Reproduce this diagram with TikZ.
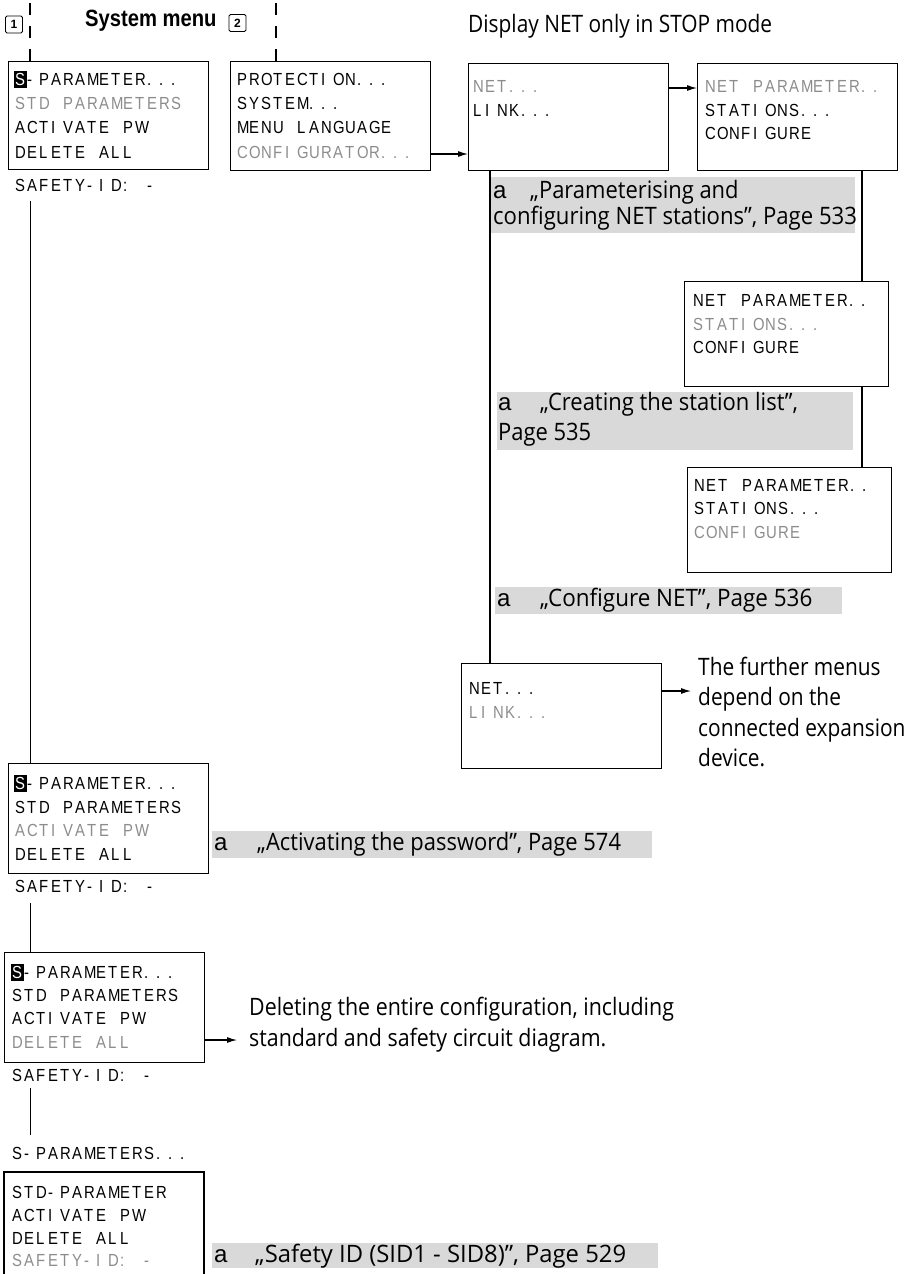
\documentclass[tikz,border=0pt]{standalone}
\usepackage{fontspec}
\usepackage{graphicx}
\usetikzlibrary{arrows.meta}
\newfontfamily\lcdfont[FakeStretch=0.85]{Liberation Sans}
\newfontfamily\capfont[FakeStretch=0.87]{Open Sans}
\newfontfamily\titlefont[FakeStretch=0.86]{Liberation Sans}
\newfontfamily\afont{Liberation Sans}
\definecolor{dimtxt}{HTML}{8C8C8C}
\definecolor{bandgray}{HTML}{D9D9D9}
\def\lcdend{LCDEND}
\def\lcdA#1{\ifx#1\lcdend\else\makebox[12pt][l]{#1}\expandafter\lcdA\fi}
\def\lcd#1{\lcdA#1\lcdend}
\newcommand\hlS{\makebox[12pt][l]{\rlap{\hspace{-1pt}\rule[-2.5pt]{12.7pt}{17pt}}\textcolor{white}{S}}}
\newcommand\sx[2]{\scalebox{#1}[1]{#2}}
\tikzset{
 lcdbox/.style={draw, line width=1.1pt, anchor=north west, inner sep=0pt, minimum width=200pt},
 lcdrow/.style={anchor=west, inner sep=0pt, text height=12.5pt, text depth=0pt, font=\lcdfont\fontsize{17.5}{20}\selectfont},
 dimrow/.style={lcdrow, text=dimtxt},
 captxt/.style={anchor=base west, inner sep=0pt, font=\capfont\fontsize{24}{30}\selectfont},
 amark/.style={anchor=base west, inner sep=0pt, font=\afont\fontsize{24}{30}\selectfont},
 conn/.style={line width=1.1pt},
 arr/.style={line width=1.1pt, -{Latex[length=10pt,width=6pt]}},
 dashln/.style={line width=1.1pt, dash pattern=on 12pt off 11pt},
 numbox/.style={draw, line width=0.8pt, rounded corners=1.5pt, minimum size=17pt, inner sep=0pt, font=\afont\bfseries\fontsize{12}{12}\selectfont},
 bandfill/.style={fill=bandgray}
}
\begin{document}
\begin{tikzpicture}[x=1pt, y=-1pt]
\useasboundingbox (0,0) rectangle (907,1274);
% header
\node[numbox] (n1) at (14,24.5) {1};
\node[numbox] (n2) at (237.5,23) {2};
\node[anchor=base west, inner sep=0pt, font=\titlefont\bfseries\fontsize{23.5}{24}\selectfont] (title) at (85,26) {System menu};
\node[captxt] (disp) at (468,32) {Display NET only in STOP mode};
% gray bands
\fill[bandfill] (491,177) rectangle (855,233);
\fill[bandfill] (497,392) rectangle (853,450);
\fill[bandfill] (495,587) rectangle (842,614);
\fill[bandfill] (212,831) rectangle (652,858);
\fill[bandfill] (212,1243) rectangle (658,1268);
% box 1
\node[lcdbox, minimum height=108pt] (b1) at (8,61) {};
\node[lcdrow] (b1r1) at (15,79) {\hlS\lcd{-PARAMETER...}};
\node[dimrow] (b1r2) at (15,103) {\lcd{STD~PARAMETERS}};
\node[lcdrow] (b1r3) at (15,127) {\lcd{ACTIVATE~PW}};
\node[lcdrow] (b1r4) at (15,152) {\lcd{DELETE~ALL}};
\node[lcdrow] (b1id) at (15,185) {\lcd{SAFETY-ID:~-}};
% box 2
\node[lcdbox, minimum height=109pt] (b2) at (230,61) {};
\node[lcdrow] (b2r1) at (237,79) {\lcd{PROTECTION...}};
\node[lcdrow] (b2r2) at (237,103) {\lcd{SYSTEM...}};
\node[lcdrow] (b2r3) at (237,127) {\lcd{MENU~LANGUAGE}};
\node[dimrow] (b2r4) at (237,152) {\lcd{CONFIGURATOR...}};
% NET box 1
\node[lcdbox, minimum height=107pt] (net1) at (468,63) {};
\node[dimrow] (net1r1) at (473,86) {\lcd{NET...}};
\node[lcdrow] (net1r2) at (473,110) {\lcd{LINK...}};
% NET PARAMETER box 1
\node[lcdbox, minimum height=107pt] (np1) at (697,63) {};
\node[dimrow] (np1r1) at (705,86) {\lcd{NET~PARAMETER..}};
\node[lcdrow] (np1r2) at (705,110) {\lcd{STATIONS...}};
\node[lcdrow] (np1r3) at (705,133) {\lcd{CONFIGURE}};
% NET PARAMETER box 2
\node[lcdbox, minimum width=204pt, minimum height=105pt] (np2) at (684,281) {};
\node[lcdrow] (np2r1) at (693,300) {\lcd{NET~PARAMETER..}};
\node[dimrow] (np2r2) at (693,324) {\lcd{STATIONS...}};
\node[lcdrow] (np2r3) at (693,347) {\lcd{CONFIGURE}};
% NET PARAMETER box 3
\node[lcdbox, minimum width=204pt, minimum height=105pt] (np3) at (687,467) {};
\node[lcdrow] (np3r1) at (694,485) {\lcd{NET~PARAMETER..}};
\node[lcdrow] (np3r2) at (694,508) {\lcd{STATIONS...}};
\node[dimrow] (np3r3) at (694,532) {\lcd{CONFIGURE}};
% NET box 2
\node[lcdbox, minimum height=105pt] (net2) at (461,663) {};
\node[lcdrow] (net2r1) at (469,688) {\lcd{NET...}};
\node[dimrow] (net2r2) at (469,712) {\lcd{LINK...}};
% box 3
\node[lcdbox, minimum height=110pt] (b3) at (8,763) {};
\node[lcdrow] (b3r1) at (15,783) {\hlS\lcd{-PARAMETER...}};
\node[lcdrow] (b3r2) at (15,807) {\lcd{STD~PARAMETERS}};
\node[dimrow] (b3r3) at (15,830) {\lcd{ACTIVATE~PW}};
\node[lcdrow] (b3r4) at (15,854) {\lcd{DELETE~ALL}};
\node[lcdrow] (b3id) at (15,886) {\lcd{SAFETY-ID:~-}};
% box 4
\node[lcdbox, minimum height=110pt] (b4) at (4,952) {};
\node[lcdrow] (b4r1) at (12,972) {\hlS\lcd{-PARAMETER...}};
\node[lcdrow] (b4r2) at (12,995) {\lcd{STD~PARAMETERS}};
\node[lcdrow] (b4r3) at (12,1018) {\lcd{ACTIVATE~PW}};
\node[dimrow] (b4r4) at (12,1042) {\lcd{DELETE~ALL}};
\node[lcdrow] (b4id) at (12,1075) {\lcd{SAFETY-ID:~-}};
% box 5 (open at the bottom)
\node[lcdrow] (b5head) at (12,1153) {\lcd{S-PARAMETERS...}};
\coordinate (b5tl) at (4,1172);
\coordinate (b5tr) at (204,1172);
\draw[conn] (4,1274) -- (b5tl) -- (b5tr) -- (204,1274);
\node[lcdrow] (b5r1) at (12,1192) {\lcd{STD-PARAMETER}};
\node[lcdrow] (b5r2) at (12,1215) {\lcd{ACTIVATE~PW}};
\node[lcdrow] (b5r3) at (12,1238) {\lcd{DELETE~ALL}};
\node[dimrow] (b5r4) at (12,1260) {\lcd{SAFETY-ID:~-}};
% dashed markers
\coordinate (d1) at (30,3);
\coordinate (d2) at (276,3);
\draw[dashln] (d1) -- (d1 |- b1.north);
\draw[dashln] (d2) -- (d2 |- b2.north);
% connectors
\coordinate (v0) at (30.5,201);
\draw[conn] (v0) -- (v0 |- b3.north);
\coordinate (v3) at (30.5,903);
\draw[conn] (v3) -- (v3 |- b4.north);
\coordinate (v4) at (30.5,1088);
\coordinate (v4e) at (30.5,1135);
\draw[conn] (v4) -- (v4e);
\coordinate (v1) at (490,0);
\draw[conn] (v1 |- net1.south) -- (v1 |- net2.north);
\coordinate (v2) at (862,0);
\draw[conn] (v2 |- np1.south) -- (v2 |- np2.north);
\draw[conn] (v2 |- np2.south) -- (v2 |- np3.north);
\coordinate (a1) at (0,154);
\draw[arr] (a1 -| b2.east) -- (a1 -| net1.west);
\coordinate (a2) at (0,88);
\draw[arr] (a2 -| net1.east) -- (a2 -| np1.west);
\coordinate (a3) at (691,691);
\draw[arr] (a3 -| net2.east) -- (a3);
\coordinate (a4) at (237,1040);
\draw[arr] (a4 -| b4.east) -- (a4);
% band texts
\node[amark] (g1a) at (493,198) {a};
\node[captxt] (g1t) at (530,198) {\sx{1.05}{„Parameterising and}};
\node[captxt] (g1u) at (493,224) {\sx{1.06}{configuring NET stations”, Page 533}};
\node[amark] (g2a) at (498,410) {a};
\node[captxt] (g2t) at (540,410) {\sx{1.053}{„Creating the station list”,}};
\node[captxt] (g2u) at (498,440) {\sx{1.05}{Page 535}};
\node[amark] (g3a) at (497,606) {a};
\node[captxt] (g3t) at (540,606) {\sx{1.075}{„Configure NET”, Page 536}};
\node[amark] (g4a) at (214,850) {a};
\node[captxt] (g4t) at (257,850) {\sx{1.05}{„Activating the password”, Page 574}};
\node[amark] (g5a) at (214,1262) {a};
\node[captxt] (g5t) at (255,1262) {\sx{1.14}{„Safety ID (SID1 - SID8)”, Page 529}};
% free texts
\node[captxt] (fm1) at (698,675) {The further menus};
\node[captxt] (fm2) at (698,705) {depend on the};
\node[captxt] (fm3) at (698,736) {connected expansion};
\node[captxt] (fm4) at (698,766) {device.};
\node[captxt] (del1) at (249,1015) {\sx{1.024}{Deleting the entire configuration, including}};
\node[captxt] (del2) at (249,1046) {\sx{1.024}{standard and safety circuit diagram.}};
\end{tikzpicture}
\end{document}
